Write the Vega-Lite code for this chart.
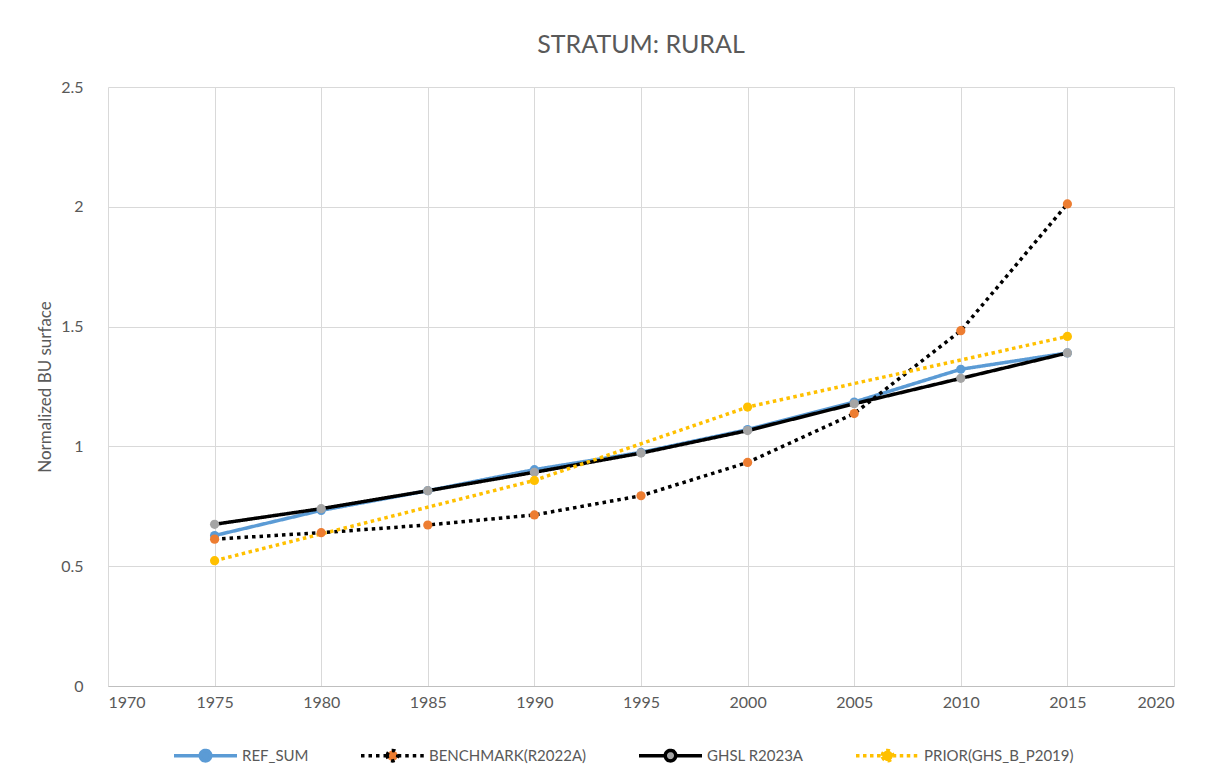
{
  "$schema": "https://vega.github.io/schema/vega-lite/v6.json",
  "width": 1228,
  "height": 781,
  "autosize": {"type": "fit", "contains": "padding"},
  "padding": {"left": 36, "top": 33, "right": 54, "bottom": 71},
  "background": "white",
  "title": {"text": "STRATUM: RURAL", "font": "Lato", "fontSize": 25, "fontWeight": "normal", "color": "#595959", "offset": 21, "anchor": "middle"},
  "data": {"values": [
    {"series": "REF_SUM", "year": 1975, "value": 0.628},
    {"series": "REF_SUM", "year": 1980, "value": 0.733},
    {"series": "REF_SUM", "year": 1985, "value": 0.815},
    {"series": "REF_SUM", "year": 1990, "value": 0.903},
    {"series": "REF_SUM", "year": 1995, "value": 0.975},
    {"series": "REF_SUM", "year": 2000, "value": 1.07},
    {"series": "REF_SUM", "year": 2005, "value": 1.185},
    {"series": "REF_SUM", "year": 2010, "value": 1.322},
    {"series": "REF_SUM", "year": 2015, "value": 1.39},
    {"series": "BENCHMARK(R2022A)", "year": 1975, "value": 0.613},
    {"series": "BENCHMARK(R2022A)", "year": 1980, "value": 0.64},
    {"series": "BENCHMARK(R2022A)", "year": 1985, "value": 0.672},
    {"series": "BENCHMARK(R2022A)", "year": 1990, "value": 0.714},
    {"series": "BENCHMARK(R2022A)", "year": 1995, "value": 0.794},
    {"series": "BENCHMARK(R2022A)", "year": 2000, "value": 0.933},
    {"series": "BENCHMARK(R2022A)", "year": 2005, "value": 1.137},
    {"series": "BENCHMARK(R2022A)", "year": 2010, "value": 1.483},
    {"series": "BENCHMARK(R2022A)", "year": 2015, "value": 2.012},
    {"series": "GHSL R2023A", "year": 1975, "value": 0.675},
    {"series": "GHSL R2023A", "year": 1980, "value": 0.74},
    {"series": "GHSL R2023A", "year": 1985, "value": 0.815},
    {"series": "GHSL R2023A", "year": 1990, "value": 0.892},
    {"series": "GHSL R2023A", "year": 1995, "value": 0.972},
    {"series": "GHSL R2023A", "year": 2000, "value": 1.066},
    {"series": "GHSL R2023A", "year": 2005, "value": 1.178},
    {"series": "GHSL R2023A", "year": 2010, "value": 1.284},
    {"series": "GHSL R2023A", "year": 2015, "value": 1.39},
    {"series": "PRIOR(GHS_B_P2019)", "year": 1975, "value": 0.523},
    {"series": "PRIOR(GHS_B_P2019)", "year": 1990, "value": 0.858},
    {"series": "PRIOR(GHS_B_P2019)", "year": 2000, "value": 1.164},
    {"series": "PRIOR(GHS_B_P2019)", "year": 2015, "value": 1.459}
  ]},
  "encoding": {
    "x": {"field": "year", "type": "quantitative", "scale": {"domain": [1970, 2020], "nice": false, "zero": false},
      "axis": {"values": [1970, 1975, 1980, 1985, 1990, 1995, 2000, 2005, 2010, 2015, 2020], "format": "d", "title": null, "labelPadding": 8, "domainColor": "#BFBFBF"}},
    "y": {"field": "value", "type": "quantitative", "scale": {"domain": [0, 2.5], "nice": false},
      "axis": {"values": [0, 0.5, 1, 1.5, 2, 2.5], "format": "~g", "title": "Normalized BU surface", "labelPadding": 25, "titlePadding": 6, "domain": false}}
  },
  "layer": [
    {
      "mark": {"type": "line"},
      "encoding": {
        "stroke": {"field": "series", "type": "nominal", "scale": {"domain": ["REF_SUM", "BENCHMARK(R2022A)", "GHSL R2023A", "PRIOR(GHS_B_P2019)"], "range": ["#5B9BD5", "#000000", "#000000", "#FFC000"]}, "legend": {"disable": false, "title": null}},
        "strokeDash": {"field": "series", "type": "nominal", "scale": {"domain": ["REF_SUM", "BENCHMARK(R2022A)", "GHSL R2023A", "PRIOR(GHS_B_P2019)"], "range": [[1, 0], [3.5, 4], [1, 0], [3.5, 3.5]]}, "legend": {"disable": false, "title": null}},
        "strokeWidth": {"field": "series", "type": "nominal", "scale": {"domain": ["REF_SUM", "BENCHMARK(R2022A)", "GHSL R2023A", "PRIOR(GHS_B_P2019)"], "range": [3.5, 3.5, 4, 3.5]}, "legend": null}
      }
    },
    {
      "mark": {"type": "point", "filled": true, "size": 85, "opacity": 1, "strokeWidth": 0},
      "encoding": {
        "fill": {"field": "series", "type": "nominal", "scale": {"domain": ["REF_SUM", "BENCHMARK(R2022A)", "GHSL R2023A", "PRIOR(GHS_B_P2019)"], "range": ["#5B9BD5", "#ED7D31", "#A5A5A5", "#FFC000"]}, "legend": {"disable": false, "title": null}},
        "stroke": {"field": "series", "type": "nominal", "legend": {"disable": false, "title": null}},
        "strokeDash": {"field": "series", "type": "nominal", "legend": {"disable": false, "title": null}}
      }
    }
  ],
  "config": {
    "view": {"stroke": null},
    "font": "Lato",
    "axis": {"labelFont": "Lato", "titleFont": "Lato", "labelColor": "#595959", "titleColor": "#595959", "gridColor": "#D9D9D9", "gridWidth": 1, "ticks": false, "labelFontSize": 16, "titleFontSize": 17, "titleFontWeight": "normal"},
    "legend": {"disable": false, "orient": "none", "legendX": 85, "legendY": 656, "direction": "horizontal", "labelFont": "Lato", "labelFontSize": 15, "labelColor": "#595959", "symbolType": "M-3,0H-0.5M0.5,0H3M-0.5,0A0.5,0.5,0,1,1,0.5,0A0.5,0.5,0,1,1,-0.5,0Z", "symbolSize": 441, "symbolStrokeWidth": 3.5, "columnPadding": 45, "labelOffset": 24}
  }
}
